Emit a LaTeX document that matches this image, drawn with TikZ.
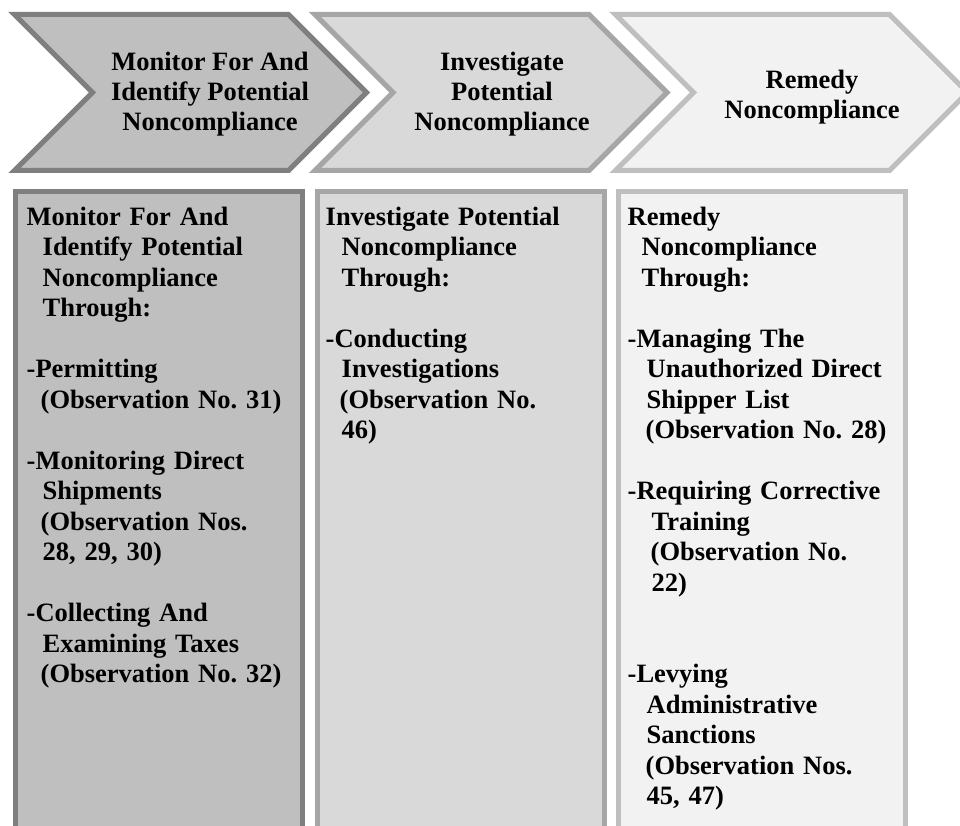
\documentclass[tikz,border=0pt]{standalone}
\usepackage{fontspec}
\setmainfont{Liberation Serif}
\usepackage{xcolor}
\usepackage{tikz}
\usetikzlibrary{shapes.symbols, positioning}
\definecolor{darkfill}{HTML}{BFBFBF}
\definecolor{darkline}{HTML}{7F7F7F}
\definecolor{midfill}{HTML}{D9D9D9}
\definecolor{midline}{HTML}{A6A6A6}
\definecolor{lightfill}{HTML}{F2F2F2}
\definecolor{lightline}{HTML}{BFBFBF}
\newcommand{\ind}[1][16pt]{\hspace*{#1}}
\frenchspacing

\begin{document}
\begin{tikzpicture}[
    x=1pt, y=-1pt,
    chevron/.style={
        signal,
        signal from=west,
        signal to=east,
        signal pointer angle=90,
        minimum width=352pt,
        minimum height=156pt,
        inner sep=0pt,
        line width=5pt
    },
    headtext/.style={
        align=center,
        font=\fontsize{26.5}{30}\selectfont\bfseries,
        inner sep=0pt
    },
    colbox/.style={
        rectangle,
        minimum width=287pt,
        minimum height=660pt,
        anchor=north west,
        line width=5pt
    },
    coltext/.style={
        text width=280pt,
        align=left,
        font=\fontsize{26.5}{30.5}\selectfont\bfseries,
        inner sep=0pt
    }
]
\useasboundingbox[fill=white] (0,0) rectangle (960,826);

\node[chevron, draw=darkline, fill=darkfill] (monstep) at (190.5,92.5) {};
\node[chevron, draw=midline, fill=midfill] (invstep) at (491,92.5) {};
\node[chevron, draw=lightline, fill=lightfill] (remstep) at (791.5,92.5) {};

\node[headtext] (monhead) at (210,94) {Monitor For And\\Identify Potential\\Noncompliance};
\node[headtext] (invhead) at (502,94) {Investigate\\Potential\\Noncompliance};
\node[headtext] (remhead) at (812,97) {Remedy\\Noncompliance};

\node[colbox, draw=darkline, fill=darkfill] (monbox) at (12.5,189.5) {};
\node[colbox, draw=midline, fill=midfill] (invbox) at (314.5,189.5) {};
\node[colbox, draw=lightline, fill=lightfill] (rembox) at (615.5,189.5) {};

\node[coltext, below right=17pt and 14pt of monbox.north west] (montext)
{Monitor For And\\
\ind Identify Potential\\
\ind Noncompliance\\
\ind Through:\\[30.5pt]
-Permitting\\
\ind[14pt](Observation No. 31)\\[30.5pt]
-Monitoring Direct\\
\ind Shipments\\
\ind[14pt](Observation Nos.\\
\ind 28, 29, 30)\\[30.5pt]
-Collecting And\\
\ind Examining Taxes\\
\ind[14pt](Observation No. 32)};

\node[coltext, below right=17pt and 11pt of invbox.north west] (invtext)
{Investigate Potential\\
\ind Noncompliance\\
\ind Through:\\[30.5pt]
-Conducting\\
\ind Investigations\\
\ind[14pt](Observation No.\\
\ind 46)};

\node[coltext, below right=17pt and 12pt of rembox.north west] (remtext)
{Remedy\\
\ind[14pt]Noncompliance\\
\ind[14pt]Through:\\[30.5pt]
-Managing The\\
\ind[19pt]Unauthorized Direct\\
\ind[19pt]Shipper List\\
\ind[18pt](Observation No. 28)\\[30.5pt]
-Requiring Corrective\\
\ind[24pt]Training\\
\ind[23pt](Observation No.\\
\ind[24pt]22)\\[61pt]
-Levying\\
\ind[19pt]Administrative\\
\ind[19pt]Sanctions\\
\ind[18pt](Observation Nos.\\
\ind[19pt]45, 47)};

\end{tikzpicture}
\end{document}
